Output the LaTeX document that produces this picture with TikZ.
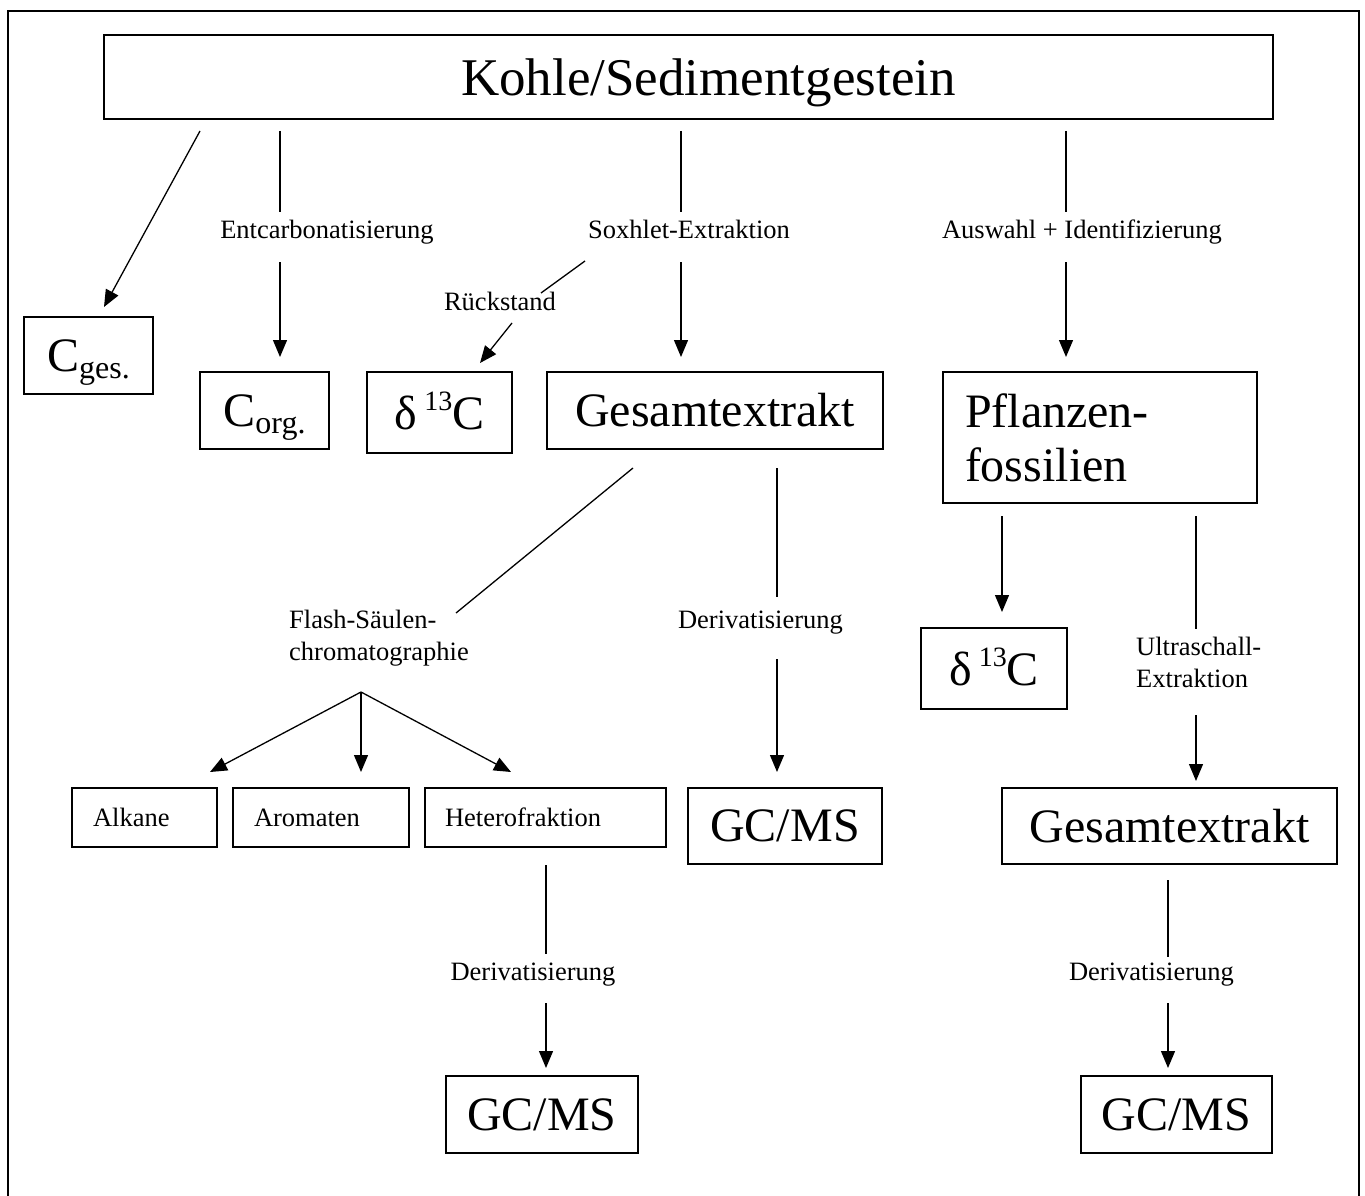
\documentclass[tikz,border=0pt]{standalone}
\usepackage{fontspec}
\setmainfont{Liberation Serif}
\usetikzlibrary{arrows.meta}
\begin{document}
\begin{tikzpicture}[x=1pt,y=-1pt,
  box/.style={draw,line width=1.6pt,inner sep=0pt,font=\fontsize{48}{54}\selectfont},
  sbox/.style={draw,line width=1.6pt,inner ysep=0pt,font=\fontsize{26.5}{32}\selectfont,align=left},
  lbl/.style={inner sep=0pt,font=\fontsize{26.5}{32}\selectfont},
  con/.style={line width=1.3pt},
  arr/.style={line width=1.3pt,-{Triangle[width=14pt,length=17pt]}}
]
\useasboundingbox (0,0) rectangle (1365,1196);
% outer frame
\draw[line width=1.6pt] (8,1196) -- (8,11) -- (1359,11) -- (1359,1196);

% boxes
\node[box,minimum width=1169,minimum height=84,font=\fontsize{53}{60}\selectfont] (kohle) at (688.5,77) {\hspace*{40pt}\raisebox{-6pt}[36pt][11.5pt]{Kohle/Sedimentgestein}};
\node[box,minimum width=129,minimum height=77] (cges) at (88.5,355.5) {C{\fontsize{32}{32}\selectfont\raisebox{-7pt}[0pt][0pt]{ges.}}};
\node[box,minimum width=129,minimum height=77] (corg) at (264.5,410.5) {\raisebox{-3pt}{C}{\fontsize{32}{32}\selectfont\raisebox{-10pt}[0pt][0pt]{org.}}};
\node[box,minimum width=145,minimum height=81] (d1) at (439.5,412.5) {δ{\fontsize{28}{28}\selectfont\hspace{7pt}\raisebox{19pt}[0pt][0pt]{13}}C};
\node[box,minimum width=336,minimum height=77] (ges1) at (715,410.5) {Gesamtextrakt};
\node[box,minimum width=306,minimum height=131,text width=270pt,inner xsep=22pt,align=left] (pfl) at (1100,437.5) {Pflanzen-\\fossilien};
\node[box,minimum width=146,minimum height=81] (d2) at (994,668.5) {δ{\fontsize{28}{28}\selectfont\hspace{7pt}\raisebox{19pt}[0pt][0pt]{13}}C};
\node[sbox,minimum width=145,minimum height=59,text width=103pt,inner xsep=21pt] (alk) at (144.5,817.5) {Alkane};
\node[sbox,minimum width=176,minimum height=59,text width=134pt,inner xsep=21pt] (aro) at (321,817.5) {Aromaten};
\node[sbox,minimum width=241,minimum height=59,text width=201pt,inner xsep=20pt] (het) at (545.5,817.5) {Heterofraktion};
\node[box,minimum width=194,minimum height=76] (gc1) at (785,826) {GC/MS};
\node[box,minimum width=335,minimum height=76] (ges2) at (1169.5,826) {Gesamtextrakt};
\node[box,minimum width=192,minimum height=77] (gc2) at (542,1114.5) {GC/MS};
\node[box,minimum width=191,minimum height=77] (gc3) at (1176.5,1114.5) {GC/MS};

% labels
\node[lbl,anchor=base] (ent) at (327,238) {Entcarbonatisierung};
\node[lbl,anchor=base] (sox) at (689,238) {Soxhlet-Extraktion};
\node[lbl,anchor=base] (aus) at (1082,238) {Auswahl + Identifizierung};
\node[lbl,anchor=base] (rue) at (500,310) {Rückstand};
\node[lbl,anchor=north west,align=left] (flash) at (289,610) {Flash-Säulen-\\chromatographie};
\node[lbl,anchor=base] (der1) at (760.5,628) {Derivatisierung};
\node[lbl,anchor=north west,align=left] (ultra) at (1136,637) {Ultraschall-\\Extraktion};
\node[lbl,anchor=base] (der2) at (533,980) {Derivatisierung};
\node[lbl,anchor=base] (der3) at (1151.5,980) {Derivatisierung};

% connector end points
\coordinate (c1a) at (200,131);   \coordinate (c1b) at (104,307);
\coordinate (c2a) at (280,131);   \coordinate (c2b) at (280,212);
\coordinate (c2c) at (280,262);   \coordinate (c2d) at (280,357);
\coordinate (c3a) at (681,131);   \coordinate (c3b) at (681,212);
\coordinate (c3c) at (681,262);   \coordinate (c3d) at (681,357);
\coordinate (c4a) at (1066,131);  \coordinate (c4b) at (1066,212);
\coordinate (c4c) at (1066,262);  \coordinate (c4d) at (1066,357);
\coordinate (r1) at (585,261);    \coordinate (r2) at (541,293);
\coordinate (r3) at (512,323);    \coordinate (r4) at (480,363);
\coordinate (f1) at (633,468);    \coordinate (f2) at (456,613);
\coordinate (fan) at (361,692);
\coordinate (t1) at (210,772);    \coordinate (t2) at (361,772);    \coordinate (t3) at (511,772);
\coordinate (m1) at (777,468);    \coordinate (m2) at (777,597);
\coordinate (m3) at (777,659);    \coordinate (m4) at (777,772);
\coordinate (p1) at (1002,516);   \coordinate (p2) at (1002,612);
\coordinate (u1) at (1196,516);   \coordinate (u2) at (1196,629);
\coordinate (u3) at (1196,715);   \coordinate (u4) at (1196,781);
\coordinate (h1) at (546,865);    \coordinate (h2) at (546,954);
\coordinate (h3) at (546,1003);   \coordinate (h4) at (546,1068);
\coordinate (g1) at (1168,880);   \coordinate (g2) at (1168,957);
\coordinate (g3) at (1168,1003);  \coordinate (g4) at (1168,1068);

% connectors
\draw[arr] (c1a) -- (c1b);
\draw[con] (c2a) -- (c2b);  \draw[arr] (c2c) -- (c2d);
\draw[con] (c3a) -- (c3b);  \draw[arr] (c3c) -- (c3d);
\draw[con] (c4a) -- (c4b);  \draw[arr] (c4c) -- (c4d);
\draw[con] (r1) -- (r2);    \draw[arr] (r3) -- (r4);
\draw[con] (f1) -- (f2);
\draw[arr] (fan) -- (t1);
\draw[arr] (fan) -- (t2);
\draw[arr] (fan) -- (t3);
\draw[con] (m1) -- (m2);    \draw[arr] (m3) -- (m4);
\draw[arr] (p1) -- (p2);
\draw[con] (u1) -- (u2);    \draw[arr] (u3) -- (u4);
\draw[con] (h1) -- (h2);    \draw[arr] (h3) -- (h4);
\draw[con] (g1) -- (g2);    \draw[arr] (g3) -- (g4);
\end{tikzpicture}
\end{document}
